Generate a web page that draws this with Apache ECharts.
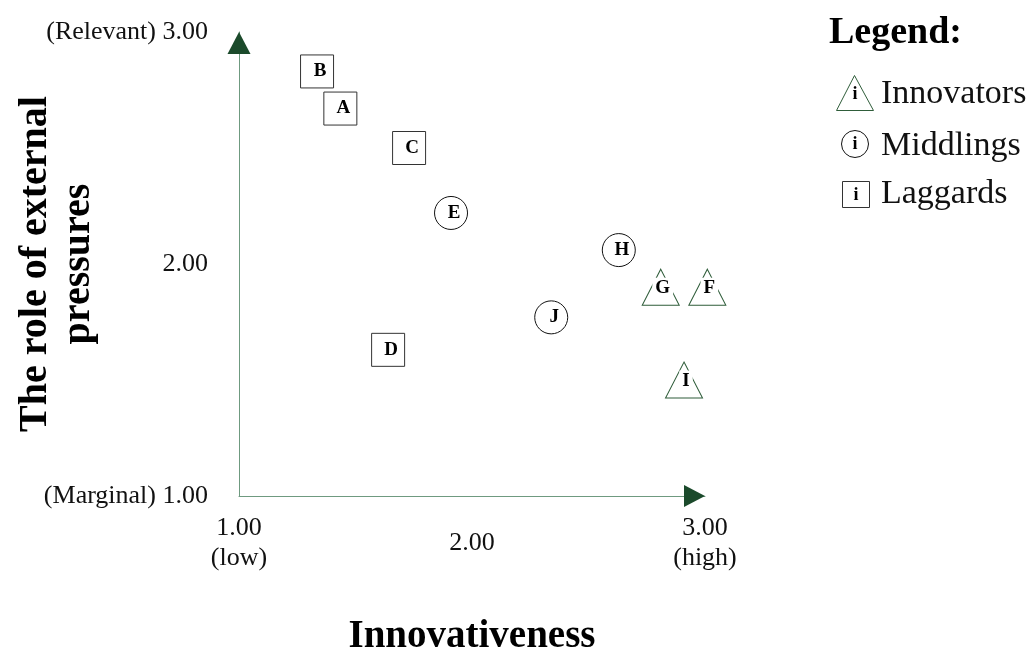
<!DOCTYPE html>
<html>
<head>
<meta charset="utf-8">
<script src="https://cdn.jsdelivr.net/npm/echarts@6/dist/echarts.min.js"></script>
<style>
html,body{margin:0;padding:0;background:#fff;}
#chart{width:1032px;height:650px;}
</style>
</head>
<body>
<div id="chart"></div>
<script>
// ---- data ----
const innovatorNames = ['G', 'F', 'I'];
const innovatorX = [2.81, 3.01, 2.91];
const innovatorY = [1.90, 1.90, 1.50];

const middlingNames = ['E', 'H', 'J'];
const middlingX = [1.91, 2.63, 2.34];
const middlingY = [2.22, 2.06, 1.77];

const laggardNames = ['B', 'A', 'C', 'D'];
const laggardX = [1.335, 1.435, 1.73, 1.64];
const laggardY = [2.83, 2.67, 2.50, 1.63];

const xTickValues = [1, 2, 3];
const xTickLabels = ['1.00\n(low)', '2.00', '3.00\n(high)'];
const yTickValues = [1, 2, 3];
const yTickLabels = ['(Marginal) 1.00', '2.00', '(Relevant) 3.00'];

const xTitle = 'Innovativeness';
const yTitle = 'The role of external\npressures';
const legendTitle = 'Legend:';
const legendLabels = ['Innovators', 'Middlings', 'Laggards'];

const SERIF = '"Liberation Serif", "Times New Roman", serif';
const GREEN = '#2f5d3a';
const ARROW = '#1b4a2b';
const AXIS = '#6f9a80';

function pts(names, xs, ys) {
  return names.map((n, i) => ({ name: n, value: [xs[i], ys[i]] }));
}
function lookup(vals, labels) {
  return v => {
    const i = vals.findIndex(t => Math.abs(t - v) < 1e-9);
    return i >= 0 ? labels[i] : '';
  };
}

const labelBase = {
  show: true,
  position: 'inside',
  formatter: p => p.name,
  fontFamily: SERIF,
  fontWeight: 'bold',
  fontSize: 19,
  color: '#000'
};

const chart = echarts.init(document.getElementById('chart'), null, { renderer: 'canvas' });
chart.setOption({
  backgroundColor: '#fff',
  animation: false,
  grid: { left: 239, right: 327, top: 32, bottom: 154, containLabel: false, outerBoundsMode: 'none' },
  xAxis: {
    type: 'value', min: 1, max: 3, interval: 1,
    splitLine: { show: false },
    axisTick: { show: false },
    axisLine: { show: true, lineStyle: { color: AXIS, width: 1 } },
    axisLabel: {
      formatter: lookup(xTickValues, xTickLabels),
      fontFamily: SERIF, fontSize: 26, color: '#111',
      lineHeight: 30, verticalAlign: 'middle', margin: 47
    },
    name: xTitle, nameLocation: 'middle', nameGap: 121, nameMoveOverlap: false,
    nameTextStyle: { fontFamily: SERIF, fontWeight: 'bold', fontSize: 39, color: '#000' }
  },
  yAxis: {
    type: 'value', min: 1, max: 3, interval: 1,
    splitLine: { show: false },
    axisTick: { show: false },
    axisLine: { show: true, lineStyle: { color: AXIS, width: 1 } },
    axisLabel: {
      formatter: lookup(yTickValues, yTickLabels),
      fontFamily: SERIF, fontSize: 26, color: '#111', margin: 31
    },
    name: yTitle, nameLocation: 'middle', nameGap: 139, nameRotate: 90, nameMoveOverlap: false,
    nameTextStyle: { fontFamily: SERIF, fontWeight: 'bold', fontSize: 40, lineHeight: 43, color: '#000', align: 'center' }
  },
  series: [
    {
      name: 'Laggards', type: 'scatter', clip: false,
      symbol: 'rect', symbolSize: 33,
      itemStyle: { color: '#fff', borderColor: '#333', borderWidth: 1, opacity: 1 },
      label: Object.assign({}, labelBase, { offset: [3, 0] }),
      data: pts(laggardNames, laggardX, laggardY), z: 3
    },
    {
      name: 'Middlings', type: 'scatter', clip: false,
      symbol: 'circle', symbolSize: 33,
      itemStyle: { color: '#fff', borderColor: '#111', borderWidth: 1, opacity: 1 },
      label: Object.assign({}, labelBase, { offset: [3, 0] }),
      data: pts(middlingNames, middlingX, middlingY), z: 3
    },
    {
      name: 'Innovators', type: 'scatter', clip: false,
      symbol: 'triangle', symbolSize: [37, 36],
      itemStyle: { color: '#fff', borderColor: GREEN, borderWidth: 1, opacity: 1 },
      label: Object.assign({}, labelBase, { offset: [2, 1], backgroundColor: '#fff', padding: [1, 3] }),
      data: pts(innovatorNames, innovatorX, innovatorY), z: 3
    },
    {
      name: 'xArrow', type: 'scatter', clip: false, silent: true,
      symbol: 'triangle', symbolSize: [22, 21], symbolRotate: -90, symbolOffset: [-10.5, 0],
      itemStyle: { color: ARROW, opacity: 1 },
      data: [[xTickValues[2], yTickValues[0]]], z: 4
    },
    {
      name: 'yArrow', type: 'scatter', clip: false, silent: true,
      symbol: 'triangle', symbolSize: [23, 22], symbolOffset: [0, 11],
      itemStyle: { color: ARROW, opacity: 1 },
      data: [[xTickValues[0], yTickValues[2]]], z: 4
    }
  ],
  graphic: [
    { type: 'text', left: 829, top: 14, style: { text: legendTitle, font: 'bold 38px ' + SERIF, fill: '#000' } },
    // legend: Innovators
    { type: 'polygon', shape: { points: [[854.5, 75.5], [836.5, 110.5], [873.5, 110.5]] }, style: { fill: '#fff', stroke: GREEN, lineWidth: 1 } },
    { type: 'text', x: 855, y: 94, style: { text: 'i', font: 'bold 18px ' + SERIF, fill: '#000', align: 'center', verticalAlign: 'middle', backgroundColor: '#fff' } },
    { type: 'text', x: 881, y: 94, style: { text: legendLabels[0], font: '34px ' + SERIF, fill: '#111', verticalAlign: 'middle' } },
    // legend: Middlings
    { type: 'circle', shape: { cx: 855, cy: 144, r: 13.5 }, style: { fill: '#fff', stroke: '#111', lineWidth: 1 } },
    { type: 'text', x: 855, y: 144, style: { text: 'i', font: 'bold 18px ' + SERIF, fill: '#000', align: 'center', verticalAlign: 'middle' } },
    { type: 'text', x: 881, y: 146, style: { text: legendLabels[1], font: '34px ' + SERIF, fill: '#111', verticalAlign: 'middle' } },
    // legend: Laggards
    { type: 'rect', shape: { x: 842.5, y: 181.5, width: 27, height: 26 }, style: { fill: '#fff', stroke: '#333', lineWidth: 1 } },
    { type: 'text', x: 856, y: 195, style: { text: 'i', font: 'bold 18px ' + SERIF, fill: '#000', align: 'center', verticalAlign: 'middle' } },
    { type: 'text', x: 881, y: 194, style: { text: legendLabels[2], font: '34px ' + SERIF, fill: '#111', verticalAlign: 'middle' } }
  ]
});
</script>
</body>
</html>
